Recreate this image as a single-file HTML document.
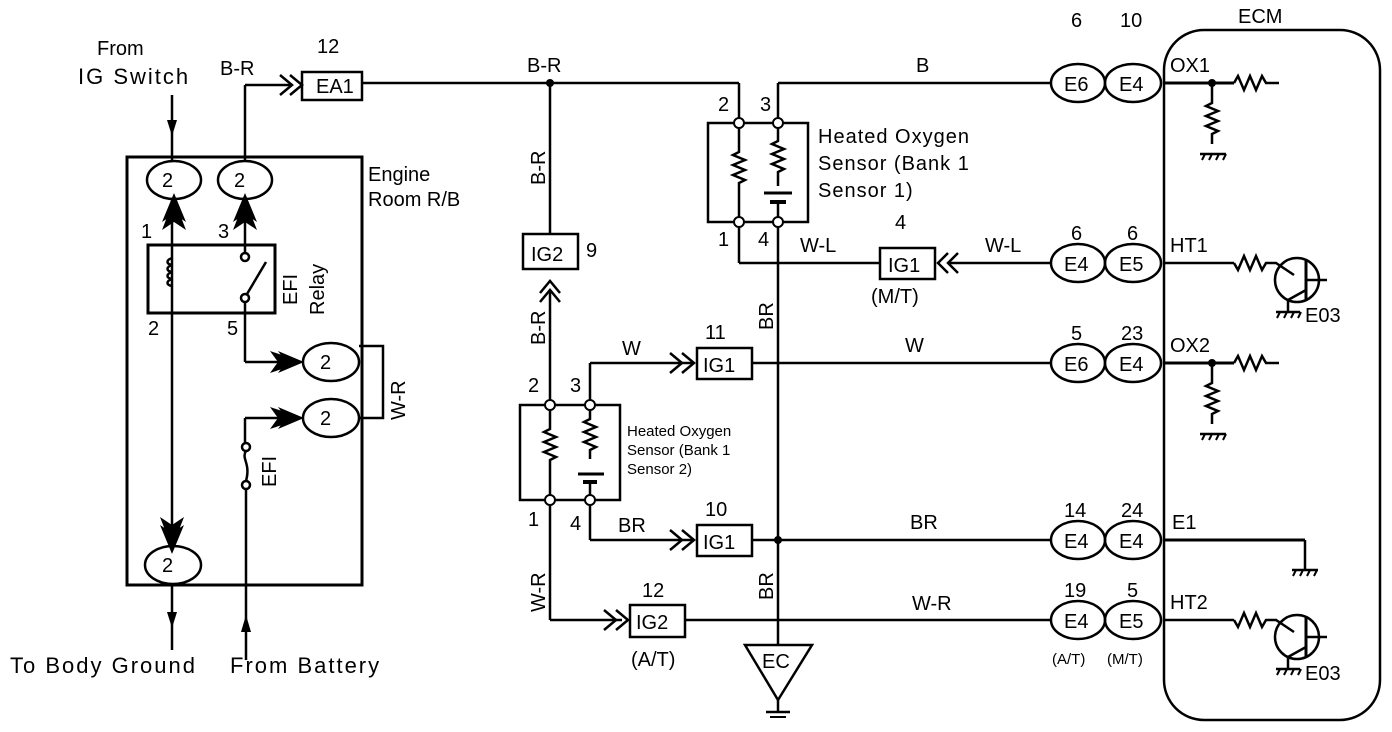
<!DOCTYPE html>
<html><head><meta charset="utf-8"><style>
html,body{margin:0;padding:0;background:#fff}
svg{display:block}
text{font-family:"Liberation Sans",sans-serif;font-size:20px;fill:#000}
.s{font-size:15px}
.w{font-size:22px;letter-spacing:2px}
.h{letter-spacing:1px}
</style></head><body>
<svg width="1392" height="732" viewBox="0 0 1392 732" xmlns="http://www.w3.org/2000/svg">
<g stroke="#000" stroke-width="2.5" fill="none">
<!-- Engine room box -->
<rect x="127" y="157" width="235" height="428" stroke-width="3"/>
<ellipse cx="174" cy="180" rx="27" ry="19"/>
<ellipse cx="245" cy="180" rx="27" ry="19"/>
<ellipse cx="173" cy="565" rx="28" ry="19"/>
<ellipse cx="331" cy="362" rx="28" ry="19"/>
<ellipse cx="331" cy="418" rx="28" ry="19"/>
<line x1="172" y1="95" x2="172" y2="161"/>
<line x1="172" y1="199" x2="172" y2="546"/>
<line x1="172" y1="584" x2="172" y2="650"/>
<line x1="245" y1="85" x2="245" y2="161"/>
<line x1="245" y1="85" x2="290" y2="85"/>
<polyline points="280,75 292,85 280,95"/>
<polyline points="290,75 302,85 290,95"/>
<rect x="148" y="245" width="127" height="68" stroke-width="3"/>
<line x1="245" y1="199" x2="245" y2="252"/>
<circle cx="245" cy="257" r="4" fill="#fff"/>
<circle cx="245" cy="298" r="4" fill="#fff"/>
<line x1="247" y1="294" x2="266" y2="262"/>
<path d="M172,258 c-6,2 -6,6 0,7 c-6,2 -6,6 0,7 c-6,2 -6,6 0,7 c-6,2 -6,6 0,7"/>
<line x1="245" y1="302" x2="245" y2="362"/>
<line x1="245" y1="362" x2="300" y2="362"/>
<line x1="245" y1="418" x2="300" y2="418"/>
<line x1="245" y1="418" x2="245" y2="443"/>
<circle cx="246" cy="447" r="4" fill="#fff"/>
<circle cx="246" cy="485" r="4" fill="#fff"/>
<path d="M246,451 c-5,8 5,12 0,30"/>
<line x1="246" y1="489" x2="246" y2="660"/>
<polyline points="359,346 383,346 383,418 359,418"/>
<rect x="302" y="72" width="60" height="28"/>
<line x1="362" y1="83" x2="739" y2="83"/>
<line x1="739" y1="83" x2="739" y2="119"/>
<line x1="778" y1="83" x2="1050" y2="83"/>
<line x1="778" y1="83" x2="778" y2="119"/>
<line x1="550" y1="83" x2="550" y2="234"/>
<rect x="523" y="234" width="55" height="35"/>
<polyline points="540,293 550,281 560,293"/>
<polyline points="540,302 550,290 560,302"/>
<line x1="550" y1="290" x2="550" y2="401"/>
<rect x="708" y="123" width="100" height="99"/>
<path d="M739,127 v25 l-6,3 l12,5 l-12,5 l12,5 l-12,5 l12,5 l-6,3 v40"/>
<path d="M778,127 v14 l-6,3 l12,5 l-12,5 l12,5 l-12,5 l12,5 l-6,3 v14"/>
<line x1="764" y1="193" x2="792" y2="193" stroke-width="3"/>
<line x1="770" y1="202" x2="786" y2="202" stroke-width="4"/>
<line x1="778" y1="202" x2="778" y2="218"/>
<line x1="739" y1="226" x2="739" y2="263"/>
<line x1="739" y1="263" x2="880" y2="263"/>
<line x1="778" y1="226" x2="778" y2="645"/>
<rect x="880" y="248" width="55" height="31"/>
<polyline points="948,253 938,263 948,273"/>
<polyline points="958,253 948,263 958,273"/>
<line x1="948" y1="263" x2="1050" y2="263"/>
<rect x="520" y="405" width="100" height="95"/>
<path d="M550,409 v20 l-6,3 l12,5 l-12,5 l12,5 l-12,5 l12,5 l-6,3 v36"/>
<path d="M590,409 v10 l-6,3 l12,5 l-12,5 l12,5 l-12,5 l12,5 l-6,3 v9"/>
<line x1="578" y1="474" x2="604" y2="474" stroke-width="3"/>
<line x1="583" y1="482" x2="597" y2="482" stroke-width="4"/>
<line x1="590" y1="482" x2="590" y2="496"/>
<line x1="590" y1="401" x2="590" y2="363"/>
<line x1="590" y1="363" x2="692" y2="363"/>
<polyline points="670,353 682,363 670,373"/>
<polyline points="682,353 694,363 682,373"/>
<rect x="697" y="348" width="55" height="31"/>
<line x1="752" y1="363" x2="1050" y2="363"/>
<line x1="590" y1="504" x2="590" y2="540"/>
<line x1="590" y1="540" x2="692" y2="540"/>
<polyline points="670,530 682,540 670,550"/>
<polyline points="682,530 694,540 682,550"/>
<rect x="697" y="525" width="55" height="31"/>
<line x1="752" y1="540" x2="1050" y2="540"/>
<line x1="550" y1="504" x2="550" y2="620"/>
<line x1="550" y1="620" x2="622" y2="620"/>
<polyline points="604,610 616,620 604,630"/>
<polyline points="616,610 628,620 616,630"/>
<rect x="630" y="605" width="55" height="32"/>
<line x1="685" y1="620" x2="1050" y2="620"/>
<polygon points="745,645 812,645 778,700"/>
<line x1="778" y1="700" x2="778" y2="712"/>
<line x1="766" y1="712" x2="790" y2="712"/>
<line x1="770" y1="717" x2="786" y2="717" stroke-width="2"/>
<ellipse cx="1078" cy="83" rx="27" ry="19"/><ellipse cx="1133" cy="83" rx="28" ry="19"/>
<ellipse cx="1078" cy="263" rx="27" ry="19"/><ellipse cx="1133" cy="263" rx="28" ry="19"/>
<ellipse cx="1078" cy="363" rx="27" ry="19"/><ellipse cx="1133" cy="363" rx="28" ry="19"/>
<ellipse cx="1078" cy="540" rx="27" ry="19"/><ellipse cx="1133" cy="540" rx="28" ry="19"/>
<ellipse cx="1078" cy="620" rx="27" ry="19"/><ellipse cx="1133" cy="620" rx="28" ry="19"/>
<rect x="1164" y="30" width="216" height="690" rx="40"/>
<line x1="1164" y1="83" x2="1234" y2="83" stroke-width="3"/>
<path d="M1234,83 l4,-7 l6,14 l6,-14 l6,14 l6,-14 l4,7 h13"/>
<path d="M1212,83 v20 l-6,3 l12,5 l-12,5 l12,5 l-12,5 l12,5 l-6,3 v10"/>
<line x1="1200" y1="154" x2="1226" y2="154"/>
<path d="M1202,160 l3,-6 M1209,160 l3,-6 M1216,160 l3,-6 M1223,160 l3,-6" stroke-width="2"/>
<line x1="1164" y1="363" x2="1234" y2="363" stroke-width="3"/>
<path d="M1234,363 l4,-7 l6,14 l6,-14 l6,14 l6,-14 l4,7 h13"/>
<path d="M1212,363 v20 l-6,3 l12,5 l-12,5 l12,5 l-12,5 l12,5 l-6,3 v10"/>
<line x1="1200" y1="434" x2="1226" y2="434"/>
<path d="M1202,440 l3,-6 M1209,440 l3,-6 M1216,440 l3,-6 M1223,440 l3,-6" stroke-width="2"/>
<line x1="1164" y1="263" x2="1234" y2="263"/>
<path d="M1234,263 l4,7 l6,-14 l6,14 l6,-14 l6,14 l4,-7 h10 l18,12"/>
<circle cx="1297" cy="280" r="22"/>
<line x1="1306" y1="260" x2="1306" y2="300" stroke-width="3"/>
<line x1="1306" y1="280" x2="1327" y2="280"/>
<line x1="1306" y1="290" x2="1288" y2="300"/>
<line x1="1288" y1="300" x2="1288" y2="312"/>
<line x1="1276" y1="312" x2="1300" y2="312"/>
<path d="M1277,318 l3,-6 M1284,318 l3,-6 M1291,318 l3,-6 M1298,318 l3,-6" stroke-width="2"/>
<line x1="1164" y1="620" x2="1234" y2="620"/>
<path d="M1234,620 l4,7 l6,-14 l6,14 l6,-14 l6,14 l4,-7 h10 l18,12"/>
<circle cx="1297" cy="637" r="22"/>
<line x1="1306" y1="617" x2="1306" y2="657" stroke-width="3"/>
<line x1="1306" y1="637" x2="1327" y2="637"/>
<line x1="1306" y1="647" x2="1288" y2="657"/>
<line x1="1288" y1="657" x2="1288" y2="669"/>
<line x1="1276" y1="669" x2="1300" y2="669"/>
<path d="M1277,675 l3,-6 M1284,675 l3,-6 M1291,675 l3,-6 M1298,675 l3,-6" stroke-width="2"/>
<line x1="1164" y1="540" x2="1305" y2="540" stroke-width="3"/>
<line x1="1305" y1="540" x2="1305" y2="570"/>
<line x1="1292" y1="570" x2="1318" y2="570"/>
<path d="M1293,576 l3,-6 M1300,576 l3,-6 M1307,576 l3,-6 M1314,576 l3,-6" stroke-width="2"/>
</g>
<g stroke="#000" stroke-width="2" fill="#fff">
<circle cx="739" cy="123" r="5"/><circle cx="778" cy="123" r="5"/>
<circle cx="739" cy="222" r="5"/><circle cx="778" cy="222" r="5"/>
<circle cx="550" cy="405" r="5"/><circle cx="590" cy="405" r="5"/>
<circle cx="550" cy="500" r="5"/><circle cx="590" cy="500" r="5"/>
</g>
<g fill="#000">
<circle cx="550" cy="83" r="4"/><circle cx="778" cy="540" r="4"/>
<circle cx="1212" cy="83" r="4"/><circle cx="1212" cy="363" r="4"/>
<polygon points="167,120 177,120 172,136"/>
<polygon points="167,612 177,612 172,628"/>
<polygon points="241,632 251,632 246,615"/>
<path d="M162,230 L174,199 L186,230 L174,222 Z M162,222 L174,193 L186,222 L174,214 Z"/>
<path d="M233,230 L245,199 L257,230 L245,222 Z M233,222 L245,193 L257,222 L245,214 Z"/>
<path d="M160,517 L172,548 L184,517 L172,525 Z M160,525 L172,554 L184,525 L172,533 Z"/>
<path d="M270,351 L303,362 L270,373 L278,362 Z M278,351 L304,362 L278,373 L286,362 Z"/>
<path d="M270,407 L303,418 L270,429 L278,418 Z M278,407 L304,418 L278,429 L286,418 Z"/>
</g>
<text x="97" y="55">From</text>
<text class="w" x="78" y="84">IG Switch</text>
<text x="220" y="75">B-R</text>
<text x="317" y="53">12</text>
<text x="316" y="93">EA1</text>
<text x="368" y="181">Engine</text>
<text x="368" y="206">Room R/B</text>
<text x="162" y="187">2</text><text x="234" y="187">2</text>
<text x="162" y="572">2</text><text x="320" y="369">2</text><text x="320" y="425">2</text>
<text x="141" y="238">1</text><text x="218" y="238">3</text>
<text x="148" y="335">2</text><text x="227" y="335">5</text>
<text transform="translate(297,305) rotate(-90)">EFI</text>
<text transform="translate(324,315) rotate(-90)">Relay</text>
<text transform="translate(276,487) rotate(-90)">EFI</text>
<text transform="translate(405,420) rotate(-90)">W-R</text>
<text class="w" x="10" y="673">To Body Ground</text>
<text class="w" x="230" y="673">From Battery</text>
<text x="527" y="72">B-R</text>
<text transform="translate(545,185) rotate(-90)">B-R</text>
<text x="531" y="261">IG2</text><text x="586" y="257">9</text>
<text transform="translate(545,345) rotate(-90)">B-R</text>
<text x="528" y="392">2</text><text x="570" y="392">3</text>
<text x="528" y="526">1</text><text x="570" y="530">4</text>
<text transform="translate(545,612) rotate(-90)">W-R</text>
<text x="622" y="355">W</text>
<text x="705" y="339">11</text><text x="703" y="372">IG1</text>
<text x="618" y="532">BR</text>
<text x="705" y="516">10</text><text x="703" y="549">IG1</text>
<text x="642" y="597">12</text><text x="636" y="629">IG2</text>
<text x="631" y="666">(A/T)</text>
<text class="s" x="627" y="436">Heated Oxygen</text>
<text class="s" x="627" y="455">Sensor (Bank 1</text>
<text class="s" x="627" y="474">Sensor 2)</text>
<text x="718" y="111">2</text><text x="760" y="111">3</text>
<text x="718" y="246">1</text><text x="758" y="246">4</text>
<text class="h" x="818" y="143">Heated Oxygen</text>
<text class="h" x="818" y="170">Sensor (Bank 1</text>
<text class="h" x="818" y="197">Sensor 1)</text>
<text x="800" y="252">W-L</text>
<text x="895" y="229">4</text>
<text x="888" y="272">IG1</text>
<text x="871" y="303">(M/T)</text>
<text x="985" y="252">W-L</text>
<text transform="translate(773,330) rotate(-90)">BR</text>
<text transform="translate(773,600) rotate(-90)">BR</text>
<text x="762" y="668">EC</text>
<text x="916" y="72">B</text>
<text x="905" y="352">W</text>
<text x="910" y="529">BR</text>
<text x="912" y="610">W-R</text>
<text x="1071" y="27">6</text><text x="1120" y="27">10</text>
<text x="1064" y="91">E6</text><text x="1119" y="91">E4</text>
<text x="1071" y="240">6</text><text x="1127" y="240">6</text>
<text x="1064" y="271">E4</text><text x="1119" y="271">E5</text>
<text x="1071" y="340">5</text><text x="1121" y="340">23</text>
<text x="1064" y="371">E6</text><text x="1119" y="371">E4</text>
<text x="1064" y="517">14</text><text x="1121" y="517">24</text>
<text x="1064" y="548">E4</text><text x="1119" y="548">E4</text>
<text x="1064" y="597">19</text><text x="1127" y="597">5</text>
<text x="1064" y="628">E4</text><text x="1119" y="628">E5</text>
<text class="s" x="1052" y="664">(A/T)</text><text class="s" x="1107" y="664">(M/T)</text>
<text x="1238" y="23">ECM</text>
<text x="1170" y="72">OX1</text>
<text x="1170" y="252">HT1</text>
<text x="1170" y="352">OX2</text>
<text x="1172" y="529">E1</text>
<text x="1170" y="609">HT2</text>
<text x="1305" y="322">E03</text>
<text x="1305" y="680">E03</text>
</svg>
</body></html>
